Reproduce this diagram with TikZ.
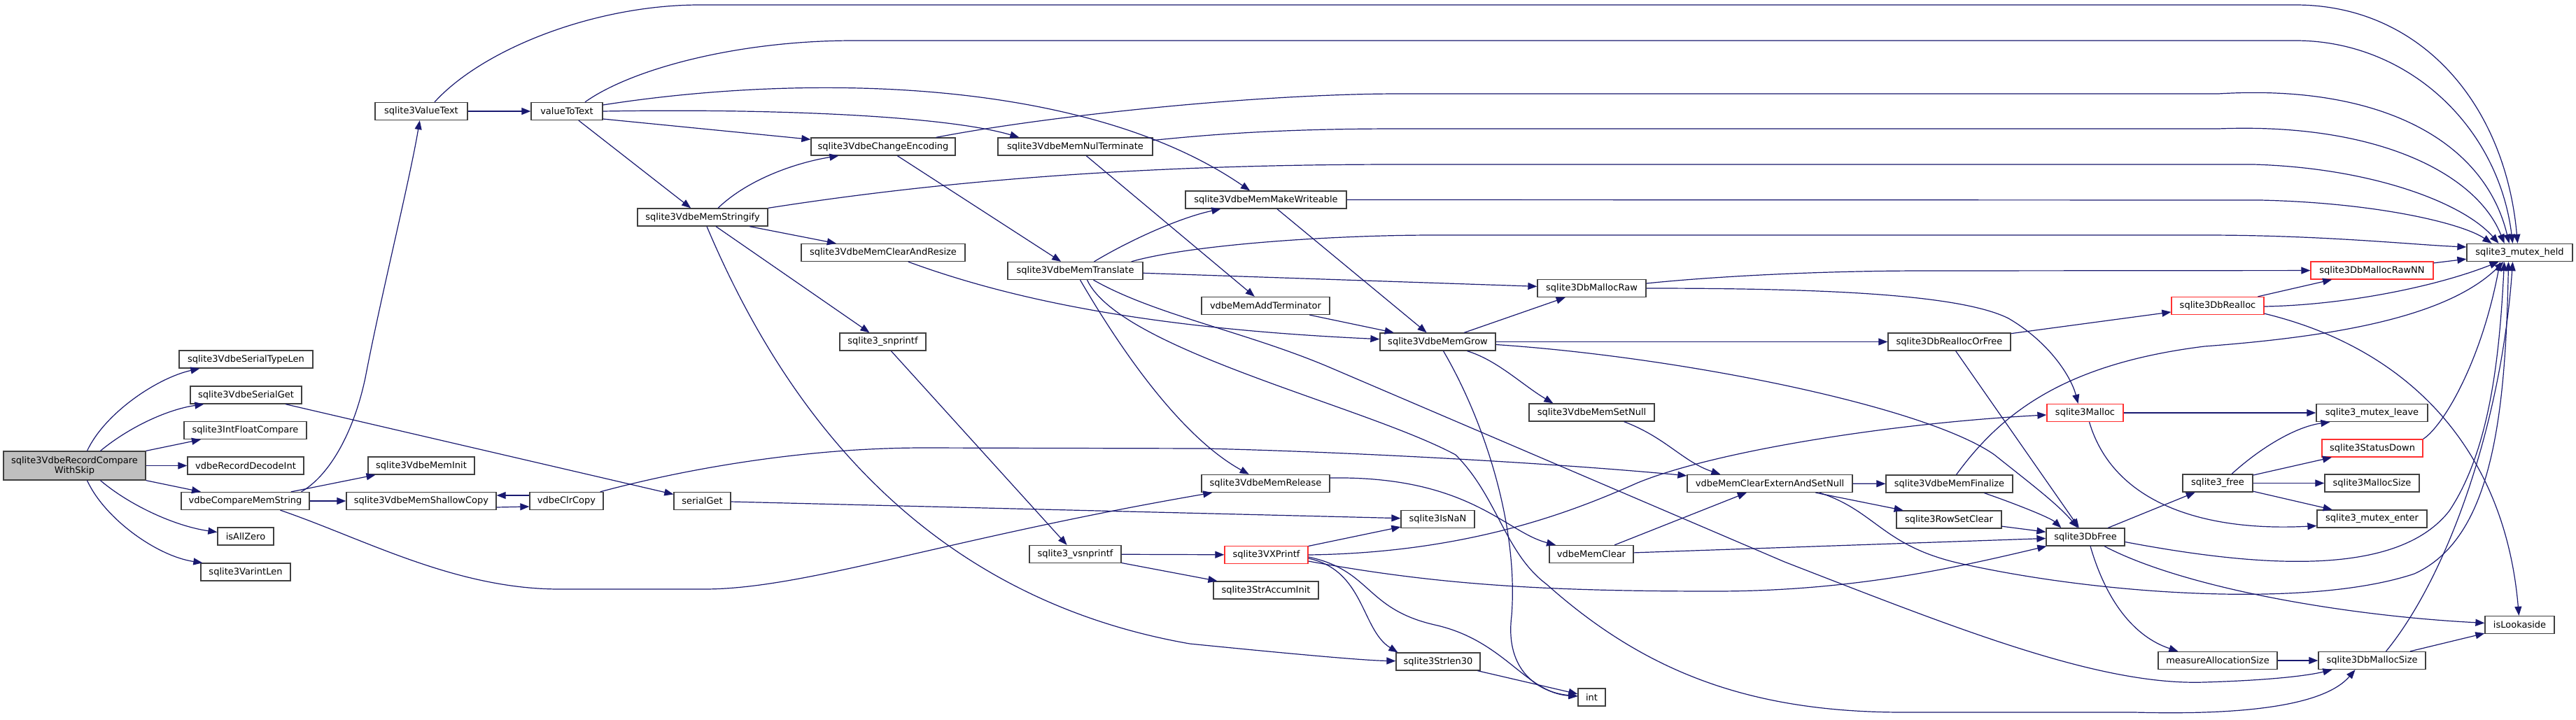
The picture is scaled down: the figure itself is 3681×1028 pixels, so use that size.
\documentclass[tikz,border=0pt]{standalone}
\usepackage{fontspec}
\setmainfont{DejaVu Sans}
\usetikzlibrary{arrows.meta,calc}
\definecolor{edgec}{HTML}{191970}
\definecolor{nodeb}{HTML}{404040}
\definecolor{redb}{HTML}{FF3030}
\definecolor{mainf}{HTML}{BFBFBF}
\begin{document}
\begin{tikzpicture}[x=0.5pt,y=-0.5pt,
  nb/.style={draw=nodeb, fill=white, line width=0.65pt, minimum height=12.5pt, inner sep=0pt, font=\fontsize{6.5}{7}\selectfont},
  rb/.style={nb, draw=redb},
  edg/.style={draw=edgec, line width=0.6pt, -{Triangle[length=6.5pt,width=5pt]}}]
\useasboundingbox (0,0) rectangle (3681,1028);
\fill[white] (0,0) rectangle (3681,1028);
% ---------------- nodes ----------------
\node[nb, fill=mainf, minimum width=101.5pt, minimum height=20.5pt, align=center] (m) at (106.5,665.5) {sqlite3VdbeRecordCompare\\WithSkip};
\node[nb, minimum width=95.5pt] (stl) at (351.5,513.5) {sqlite3VdbeSerialTypeLen};
\node[nb, minimum width=79.5pt] (sg) at (351.5,564.5) {sqlite3VdbeSerialGet};
\node[nb, minimum width=87.5pt] (ifc) at (350.5,615) {sqlite3IntFloatCompare};
\node[nb, minimum width=83pt] (rdi) at (351,665.5) {vdbeRecordDecodeInt};
\node[nb, minimum width=91.5pt] (cms) at (350.5,716) {vdbeCompareMemString};
\node[nb, minimum width=40pt] (iaz) at (351,766.5) {isAllZero};
\node[nb, minimum width=64pt] (vil) at (351,817.5) {sqlite3VarintLen};
\node[nb, minimum width=66pt] (vt) at (602,159) {sqlite3ValueText};
\node[nb, minimum width=51pt] (vtt) at (810,159) {valueToText};
\node[nb, minimum width=76pt] (mi) at (602,665.5) {sqlite3VdbeMemInit};
\node[nb, minimum width=107pt] (sc) at (602,716) {sqlite3VdbeMemShallowCopy};
\node[nb, minimum width=52.5pt] (cc) at (809.5,716) {vdbeClrCopy};
\node[nb, minimum width=93pt] (st) at (1004,310.5) {sqlite3VdbeMemStringify};
\node[nb, minimum width=40.5pt] (sgt) at (1003.5,716) {serialGet};
\node[nb, minimum width=103pt] (enc) at (1262,209.5) {sqlite3VdbeChangeEncoding};
\node[nb, minimum width=117pt] (car) at (1262,361) {sqlite3VdbeMemClearAndResize};
\node[nb, minimum width=61.5pt] (snp) at (1261.5,488.5) {sqlite3\_snprintf};
\node[nb, minimum width=110.5pt] (nt) at (1536.5,209.5) {sqlite3VdbeMemNulTerminate};
\node[nb, minimum width=96.5pt] (tr) at (1536.5,387) {sqlite3VdbeMemTranslate};
\node[nb, minimum width=65.5pt] (vsn) at (1536.5,792) {sqlite3\_vsnprintf};
\node[nb, minimum width=115pt] (mw) at (1809,285.5) {sqlite3VdbeMemMakeWriteable};
\node[nb, minimum width=91.5pt] (mat) at (1808.5,437) {vdbeMemAddTerminator};
\node[nb, minimum width=91.5pt] (mr) at (1808.5,691) {sqlite3VdbeMemRelease};
\node[rb, minimum width=59.5pt] (vxp) at (1809.5,793) {sqlite3VXPrintf};
\node[nb, minimum width=75pt] (sai) at (1809,843.5) {sqlite3StrAccumInit};
\node[nb, minimum width=82.5pt] (mg) at (2054.5,488.5) {sqlite3VdbeMemGrow};
\node[nb, minimum width=52.5pt] (nan) at (2054.5,742) {sqlite3IsNaN};
\node[nb, minimum width=60pt] (s30) at (2055,945.5) {sqlite3Strlen30};
\node[nb, minimum width=77.5pt] (dmr) at (2274.5,412) {sqlite3DbMallocRaw};
\node[nb, minimum width=89.5pt] (msn) at (2274.5,589.5) {sqlite3VdbeMemSetNull};
\node[nb, minimum width=60pt] (mc) at (2274,792) {vdbeMemClear};
\node[nb, minimum width=19.5pt] (int) at (2274.5,996.5) {int};
\node[nb, minimum width=118pt] (ce) at (2529,691) {vdbeMemClearExternAndSetNull};
\node[nb, minimum width=87.5pt] (rof) at (2785.5,488.5) {sqlite3DbReallocOrFree};
\node[nb, minimum width=90.5pt] (fin) at (2785.5,691.5) {sqlite3VdbeMemFinalize};
\node[nb, minimum width=75pt] (rsc) at (2785,742.5) {sqlite3RowSetClear};
\node[rb, minimum width=54.5pt] (mal) at (2979.5,590) {sqlite3Malloc};
\node[nb, minimum width=56pt] (df) at (2980,767.5) {sqlite3DbFree};
\node[rb, minimum width=66pt] (drl) at (3169,437) {sqlite3DbRealloc};
\node[nb, minimum width=50pt] (fr) at (3169,690.5) {sqlite3\_free};
\node[nb, minimum width=85pt] (mas) at (3169,944) {measureAllocationSize};
\node[rb, minimum width=87.5pt] (rnn) at (3389.5,386.5) {sqlite3DbMallocRawNN};
\node[nb, minimum width=79.5pt] (mul) at (3389.5,590) {sqlite3\_mutex\_leave};
\node[rb, minimum width=72pt] (sd) at (3390,640.5) {sqlite3StatusDown};
\node[nb, minimum width=67.5pt] (msz) at (3389.5,690.5) {sqlite3MallocSize};
\node[nb, minimum width=78.5pt] (mue) at (3389.5,741.5) {sqlite3\_mutex\_enter};
\node[nb, minimum width=76.5pt] (dms) at (3389.5,944) {sqlite3DbMallocSize};
\node[nb, minimum width=75.5pt] (mh) at (3600.5,361) {sqlite3\_mutex\_held};
\node[nb, minimum width=49.5pt] (il) at (3600.5,893) {isLookaside};
% ---------------- edges ----------------
% main node
\draw[edg] ($(m.north)+(18,0)$) .. controls (150,590) and (225,540) .. ($(stl.south west)+(30,0)$);
\draw[edg] ($(m.north)+(37,0)$) .. controls (185,610) and (240,585) .. ($(sg.south west)+(20,0)$);
\draw[edg] (m) -- (ifc);
\draw[edg] (m) -- (rdi);
\draw[edg] (m) -- (cms);
\draw[edg] ($(m.south)+(37,0)$) .. controls (185,722) and (250,752) .. ($(iaz.west)+(0,-6)$);
\draw[edg] ($(m.south)+(18,0)$) .. controls (150,742) and (225,795) .. ($(vil.north west)+(3,0)$);
% serial get
\draw[edg] (sg) -- (sgt);
\draw[edg] (sgt) -- (nan);
% vdbeCompareMemString
\draw[edg] ($(cms.north)+(80,0)$) .. controls (470,680) and (505,620) .. (522,540) .. controls (545,420) and (585,260) .. (vt);
\draw[edg] (cms) -- (mi);
\draw[edg] (cms) -- (sc);
\draw[edg] ($(cms.south)+(50,0)$) .. controls (520,770) and (650,842) .. (800,842) -- (1006,842) .. controls (1150,842) and (1350,770) .. (mr);
% shallow copy / clr copy
\draw[edg] ($(sc.east)+(0,9)$) -- ($(cc.west)+(0,8)$);
\draw[edg] ($(cc.west)+(0,-8)$) -- ($(sc.east)+(0,-8)$);
\draw[edg] ($(cc.north east)+(-5,0)$) .. controls (980,670) and (1150,640) .. (1320,640) -- (1720,641) .. controls (1900,645) and (2200,660) .. (ce);
% value text
\draw[edg] (vt) -- (vtt);
\draw[edg] ($(vt.north)+(19,0)$) .. controls (690,70) and (850,7) .. (1000,7) -- (3280,7) .. controls (3460,7) and (3580,150) .. ($(mh.north)+(-3,0)$);
% valueToText
\draw[edg] ($(vtt.north)+(26,0)$) .. controls (900,100) and (1050,58) .. (1220,58) -- (3280,58) .. controls (3440,58) and (3570,180) .. ($(mh.north)+(-10,0)$);
\draw[edg] ($(vtt.east)+(0,-9)$) .. controls (1150,105) and (1550,110) .. ($(mw.north)+(-23,0)$);
\draw[edg] (vtt.east) .. controls (1100,155) and (1350,165) .. ($(nt.north west)+(31,0)$);
\draw[edg] ($(vtt.east)+(0,11)$) -- (enc);
\draw[edg] (vtt) -- (st);
% stringify
\draw[edg] ($(st.north)+(22,0)$) .. controls (1070,255) and (1140,232) .. ($(enc.south west)+(40,0)$);
\draw[edg] (st.north east) .. controls (1400,250) and (1700,235) .. (2000,235) -- (3220,235) .. controls (3390,240) and (3520,290) .. ($(mh.north)+(-30,0)$);
\draw[edg] (st) -- (car);
\draw[edg] (st) -- (snp);
\draw[edg] ($(st.south)+(6,0)$) .. controls (1110,560) and (1300,850) .. (1700,920) .. controls (1850,935) and (1950,944) .. (s30);
% change encoding
\draw[edg] ($(enc.north east)+(-28,0)$) .. controls (1500,165) and (1800,134) .. (2000,134) -- (3170,134) .. controls (3400,120) and (3550,200) .. ($(mh.north)+(-15,0)$);
\draw[edg] (enc) -- (tr);
% nul terminate
\draw[edg] ($(nt.east)+(0,-9)$) .. controls (1750,190) and (1850,184) .. (2000,184) -- (3170,184) .. controls (3400,175) and (3540,250) .. ($(mh.north)+(-22,0)$);
\draw[edg] (nt) -- (mat);
% make writeable
\draw[edg] (mw.east) -- (3230,286) .. controls (3400,290) and (3520,320) .. ($(mh.north)+(-40,0)$);
\draw[edg] (mw) -- (mg);
% translate
\draw[edg] ($(tr.north)+(27,0)$) .. controls (1620,340) and (1690,310) .. ($(mw.south west)+(51,0)$);
\draw[edg] ($(tr.north east)+(-17,0)$) .. controls (1700,350) and (1900,336) .. (2050,336) -- (3150,336) .. controls (3320,336) and (3450,350) .. ($(mh.west)+(0,-8)$);
\draw[edg] (tr) -- (dmr);
\draw[edg] ($(tr.south)+(7,0)$) .. controls (1590,480) and (1680,620) .. (mr);
\draw[edg] ($(tr.south)+(17,0)$) .. controls (1600,500) and (1950,580) .. (2080,650) .. controls (2140,710) and (2150,790) .. (2210,835) .. controls (2350,960) and (2500,1018) .. (2720,1018) -- (3050,1018) .. controls (3200,1022) and (3320,1010) .. ($(dms.south)+(-24,0)$);
\draw[edg] ($(tr.south)+(26,0)$) .. controls (1650,450) and (1780,474) .. (1900,525) -- (2550,803) .. controls (2800,900) and (3000,980) .. (3150,975) .. controls (3250,972) and (3300,965) .. ($(dms.south west)+(20,0)$);
% clear and resize, add terminator
\draw[edg] (car) .. controls (1450,430) and (1650,470) .. (mg);
\draw[edg] (mat) -- (mg);
% snprintf / vsnprintf
\draw[edg] (snp) -- (vsn);
\draw[edg] (vsn) -- (vxp);
\draw[edg] (vsn) -- (sai);
% mem grow
\draw[edg] (mg) -- (dmr);
\draw[edg] (mg) -- (rof);
\draw[edg] ($(mg.south)+(42,0)$) .. controls (2140,515) and (2175,550) .. ($(msn.north west)+(35,0)$);
\draw[edg] ($(mg.south)+(8,0)$) .. controls (2120,600) and (2170,750) .. (2160,880) .. controls (2150,960) and (2200,990) .. (int);
\draw[edg] ($(mg.east)+(0,4)$) .. controls (2400,510) and (2750,580) .. (2850,650) .. controls (2900,690) and (2940,720) .. ($(df.north)+(-11,0)$);
% db malloc raw
\draw[edg] ($(dmr.east)+(0,-7)$) .. controls (2450,395) and (2600,387) .. (2750,387) -- (rnn);
\draw[edg] (dmr.east) .. controls (2600,412) and (2800,420) .. (2870,455) .. controls (2930,490) and (2960,540) .. ($(mal.north)+(-10,0)$);
% realloc or free, realloc
\draw[edg] (rof) -- (drl);
\draw[edg] (rof) -- (df);
\draw[edg] (drl) -- (rnn);
\draw[edg] ($(drl.east)+(0,1)$) .. controls (3350,436) and (3480,410) .. ($(mh.south)+(-30,0)$);
\draw[edg] ($(drl.south east)+(0,-2)$) .. controls (3450,500) and (3580,650) .. (il);
\draw[edg] (rnn) -- (mh);
% malloc
\draw[edg] (mal) -- (mul);
\draw[edg] ($(mal.south)+(6,0)$) .. controls (3020,720) and (3150,760) .. ($(mue.west)+(0,10)$);
% db free
\draw[edg] (df) -- (fr);
\draw[edg] ($(df.east)+(0,7)$) .. controls (3250,815) and (3430,820) .. (3500,730) .. controls (3560,640) and (3572,500) .. ($(mh.south)+(-22,0)$);
\draw[edg] ($(df.south)+(27,0)$) .. controls (3120,840) and (3350,880) .. (il);
\draw[edg] ($(df.south)+(7,0)$) .. controls (3010,860) and (3050,910) .. ($(mas.north west)+(29,0)$);
% sqlite3_free
\draw[edg] ($(fr.north)+(20,0)$) .. controls (3230,640) and (3280,610) .. ($(mul.south west)+(20,0)$);
\draw[edg] (fr) -- (sd);
\draw[edg] (fr) -- (msz);
\draw[edg] (fr) -- (mue);
\draw[edg] (sd.north east) .. controls (3490,610) and (3545,520) .. ($(mh.south)+(-28,0)$);
% malloc size
\draw[edg] (mas) -- (dms);
\draw[edg] (dms) -- (il);
\draw[edg] ($(dms.north)+(20,0)$) .. controls (3500,820) and (3575,600) .. ($(mh.south)+(-10,0)$);
% clear extern and set null
\draw[edg] (ce) -- (fin);
\draw[edg] (ce) -- (rsc);
\draw[edg] ($(ce.south)+(71,0)$) .. controls (2680,730) and (2690,780) .. (2800,805) .. controls (3000,850) and (3300,870) .. (3450,820) .. controls (3560,770) and (3580,600) .. ($(mh.south)+(-16,0)$);
% finalize, rowset
\draw[edg] ($(fin.south)+(50,0)$) .. controls (2880,720) and (2930,740) .. ($(df.north west)+(22,0)$);
\draw[edg] ($(fin.north)+(10,0)$) .. controls (2860,590) and (2950,520) .. (3150,495) .. controls (3350,480) and (3500,450) .. ($(mh.south)+(-23,0)$);
\draw[edg] (rsc) -- (df);
% mem clear, set null, release
\draw[edg] (mc) -- (ce);
\draw[edg] (mc) -- (df);
\draw[edg] ($(msn.south east)+(-44,0)$) .. controls (2380,625) and (2405,660) .. ($(ce.north west)+(48,0)$);
\draw[edg] ($(mr.east)+(0,-8)$) .. controls (2100,680) and (2150,760) .. (mc);
% VXPrintf
\draw[edg] (vxp) -- (nan);
\draw[edg] (vxp.east) .. controls (2100,790) and (2250,730) .. (2340,690) .. controls (2450,645) and (2700,605) .. (mal);
\draw[edg] ($(vxp.east)+(0,9)$) .. controls (2050,835) and (2200,845) .. (2450,845) .. controls (2650,845) and (2800,810) .. (df);
\draw[edg] ($(vxp.east)+(0,5)$) .. controls (1950,815) and (1945,900) .. ($(s30.north west)+(3,0)$);
\draw[edg] ($(vxp.east)+(0,3)$) .. controls (1960,815) and (1950,870) .. (2050,893) .. controls (2150,915) and (2180,990) .. (int);
\draw[edg] (s30) -- (int);
\end{tikzpicture}
\end{document}
